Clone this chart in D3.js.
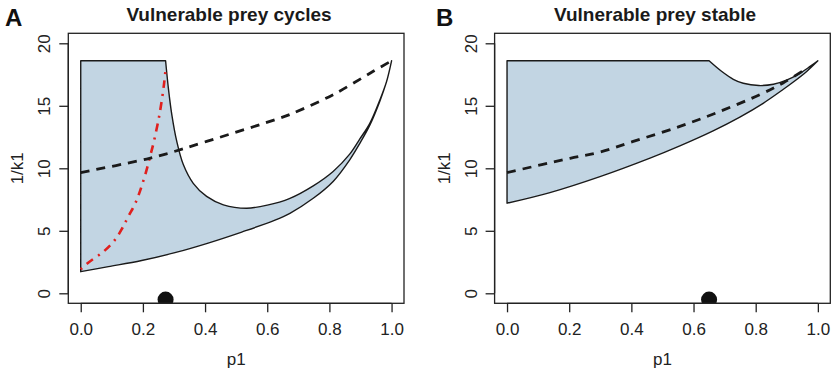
<!DOCTYPE html>
<html>
<head>
<meta charset="utf-8">
<script src="https://cdn.jsdelivr.net/npm/d3@7"></script>
<style>
  html, body { margin: 0; padding: 0; background: #fff; }
  svg { display: block; font-family: "Liberation Sans", Arial, Helvetica, sans-serif; }
</style>
</head>
<body>
<svg id="chart" width="833" height="372"></svg>
<script>
// ---------- data ----------
const xTicks = [0, 0.2, 0.4, 0.6, 0.8, 1.0];
const yTicks = [0, 5, 10, 15, 20];
const xDomain = [-0.04, 1.04];
const yDomain = [-0.8, 20.8];
const plateau = 18.6;

// Panel A: Vulnerable prey cycles
const titleA = "Vulnerable prey cycles";
const cornerA = 0.273;
const upperA = [[0.273,18.6],[0.282,16.4],[0.293,14.3],[0.309,12.15],[0.33,10.3],[0.362,8.8],[0.405,7.75],[0.459,7.08],[0.534,6.81],[0.6,7.05],[0.673,7.6],[0.748,8.6],[0.812,9.75],[0.866,11.15],[0.898,12.35],[0.93,13.6],[0.962,15.45],[0.984,16.95],[1,18.6]];
const lowerA = [[0,1.73],[0.089,2.13],[0.196,2.62],[0.303,3.25],[0.41,4.02],[0.518,4.9],[0.625,5.85],[0.673,6.4],[0.748,7.6],[0.812,8.95],[0.866,10.7],[0.898,12.0],[0.93,13.45],[0.962,15.35],[0.984,16.95],[1,18.6]];
const dashA = [[0,9.66],[0.212,10.74],[0.276,11.16],[0.405,12.15],[0.641,14.02],[0.684,14.42],[0.812,15.89],[0.941,17.76],[1,18.6]];
const redA = [[0,1.92],[0.024,2.45],[0.073,3.33],[0.11,4.27],[0.132,5.13],[0.153,6.14],[0.178,7.34],[0.209,9.62],[0.223,10.95],[0.234,12.0],[0.254,14.4],[0.268,16.75],[0.274,18.16]];
const dotA = [0.273, -0.5];

// Panel B: Vulnerable prey stable
const titleB = "Vulnerable prey stable";
const cornerB = 0.65;
const upperB = [[0.65,18.6],[0.69,17.76],[0.728,17.12],[0.76,16.8],[0.81,16.62],[0.857,16.72],[0.899,17.05],[0.942,17.6],[0.975,18.15],[1,18.6]];
const lowerB = [[0,7.21],[0.138,8.06],[0.299,9.34],[0.46,10.82],[0.556,11.8],[0.663,13.0],[0.749,14.1],[0.824,15.2],[0.888,16.3],[0.921,16.9],[0.964,17.75],[1,18.6]];
const dashB = [[0,9.66],[0.203,10.8],[0.299,11.3],[0.406,12.15],[0.556,13.35],[0.685,14.55],[0.813,15.89],[0.888,16.83],[0.965,18.0]];
const dotB = [0.65, -0.5];

// ---------- drawing ----------
const svg = d3.select("#chart");
const FONT = 17;

function panel(opts) {
  const { left, right, top, bottom } = opts;
  const x = d3.scaleLinear().domain(xDomain).range([left, right]);
  const y = d3.scaleLinear().domain(yDomain).range([bottom, top]);
  const g = svg.append("g");
  const clipId = "clip" + opts.letter;
  g.append("clipPath").attr("id", clipId)
    .append("rect").attr("x", left).attr("y", top)
    .attr("width", right - left).attr("height", bottom - top);

  const curve = d3.line().x(d => x(d[0])).y(d => y(d[1])).curve(d3.curveCatmullRom.alpha(0.5));
  const lowerStart = opts.lower[0];
  let path = `M${x(lowerStart[0])},${y(lowerStart[1])}L${x(0)},${y(plateau)}L${x(opts.corner)},${y(plateau)}`;
  path += curve(opts.upper).replace(/^M/, "L");
  path += curve(opts.lower.slice().reverse()).replace(/^M/, "L");
  path += "Z";

  const plot = g.append("g").attr("clip-path", `url(#${clipId})`);
  plot.append("path").attr("d", path)
    .attr("fill", "#c2d5e3").attr("stroke", "#1a1a1a").attr("stroke-width", 1.4)
    .attr("stroke-linejoin", "round");

  if (opts.red) {
    plot.append("path").attr("d", curve(opts.red))
      .attr("fill", "none").attr("stroke", "#e0201e").attr("stroke-width", 2.6)
      .attr("stroke-dasharray", "2,6,8,6");
  }
  plot.append("path").attr("d", curve(opts.dash))
    .attr("fill", "none").attr("stroke", "#1a1a1a").attr("stroke-width", 2.8)
    .attr("stroke-dasharray", "9,7");

  plot.append("circle").attr("cx", x(opts.dot[0])).attr("cy", y(opts.dot[1]))
    .attr("r", 8).attr("fill", "#111");

  // box
  g.append("rect").attr("x", left).attr("y", top)
    .attr("width", right - left).attr("height", bottom - top)
    .attr("fill", "none").attr("stroke", "#222").attr("stroke-width", 1.3);

  // x axis
  const xa = d3.axisBottom(x).tickValues(xTicks).tickSize(9).tickPadding(10)
    .tickFormat(d3.format(".1f"));
  const gx = g.append("g").attr("transform", `translate(0,${bottom})`).call(xa);
  gx.select(".domain").attr("d", `M${x(0)},0H${x(1)}`).attr("stroke", "#222").attr("stroke-width", 1.3);
  gx.selectAll(".tick line").attr("stroke", "#222").attr("stroke-width", 1.3);
  gx.selectAll(".tick text").attr("font-size", FONT).attr("fill", "#222")
    .attr("font-family", "Liberation Sans, Arial, sans-serif").attr("dy", null).attr("y", 32);

  // y axis
  const ya = d3.axisLeft(y).tickValues(yTicks).tickSize(9).tickFormat(d3.format("d"));
  const gy = g.append("g").attr("transform", `translate(${left},0)`).call(ya);
  gy.select(".domain").attr("d", `M0,${y(0)}V${y(20)}`).attr("stroke", "#222").attr("stroke-width", 1.3);
  gy.selectAll(".tick line").attr("stroke", "#222").attr("stroke-width", 1.3);
  gy.selectAll(".tick text")
    .attr("font-size", FONT).attr("fill", "#222")
    .attr("font-family", "Liberation Sans, Arial, sans-serif")
    .attr("x", null).attr("dy", null).attr("y", null)
    .attr("text-anchor", "middle")
    .attr("transform", "translate(-18,0) rotate(-90)");

  // axis titles
  g.append("text").attr("x", (left + right) / 2).attr("y", 365)
    .attr("text-anchor", "middle").attr("font-size", FONT).attr("fill", "#222").text("p1");
  g.append("text").attr("transform", `translate(${left - 45},${(top + bottom) / 2}) rotate(-90)`)
    .attr("text-anchor", "middle").attr("font-size", FONT).attr("fill", "#222").text("1/k1");

  // title
  g.append("text").attr("x", opts.titleX).attr("y", 21)
    .attr("text-anchor", "middle").attr("font-size", 19).attr("font-weight", "bold")
    .attr("fill", "#1a1a1a").text(opts.title);
  g.append("text").attr("x", opts.letterX).attr("y", 26)
    .attr("font-size", 24).attr("font-weight", "bold").attr("fill", "#111").text(opts.letter);
}

panel({ letter: "A", letterX: 5, left: 68.3, right: 404, top: 33.3, bottom: 303.3,
  corner: cornerA, upper: upperA, lower: lowerA, dash: dashA, red: redA, dot: dotA,
  title: titleA, titleX: 229 });
panel({ letter: "B", letterX: 436, left: 494.6, right: 830.3, top: 33.3, bottom: 303.3,
  corner: cornerB, upper: upperB, lower: lowerB, dash: dashB, red: null, dot: dotB,
  title: titleB, titleX: 655 });
</script>
</body>
</html>
